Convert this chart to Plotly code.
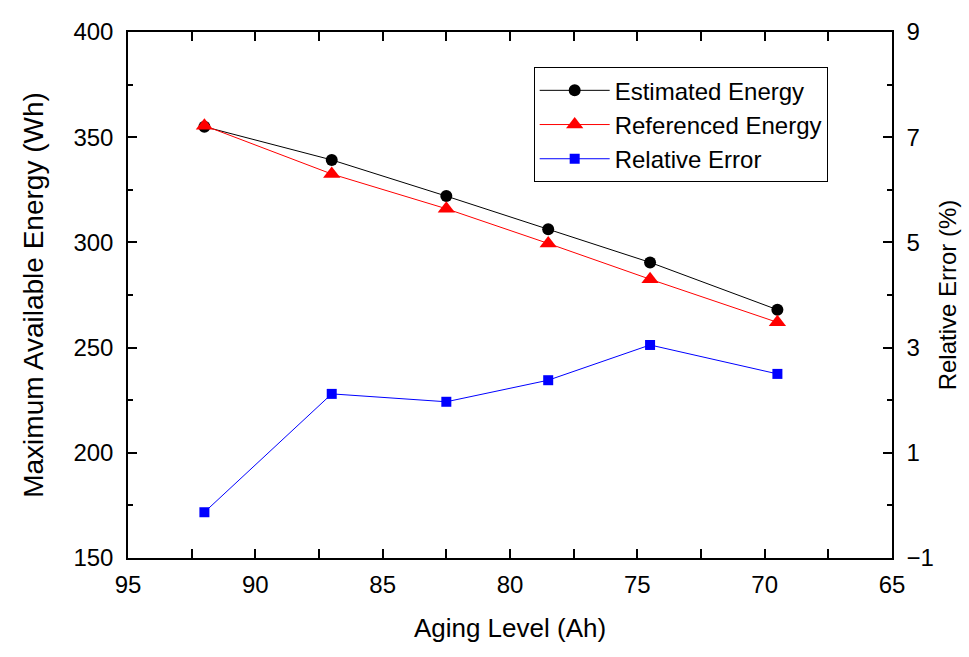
import plotly.graph_objects as go

# Aging level of the pack (Ah)
aging = [92.0, 87.0, 82.5, 78.5, 74.5, 69.5]
# Maximum available energy (Wh)
estimated_energy = [355.0, 339.2, 322.0, 306.2, 290.5, 268.0]
referenced_energy = [355.5, 332.5, 316.0, 299.5, 282.5, 262.0]
# Relative error (%)
relative_error = [-0.13, 2.12, 1.97, 2.38, 3.05, 2.50]

FONT = "Liberation Sans, Arial, sans-serif"

fig = go.Figure()
fig.add_trace(go.Scatter(
    x=aging, y=estimated_energy, name="Estimated Energy", mode="lines+markers",
    line=dict(color="black", width=1),
    marker=dict(symbol="circle", size=12, color="black"),
))
fig.add_trace(go.Scatter(
    x=aging, y=referenced_energy, name="Referenced Energy", mode="lines+markers",
    line=dict(color="red", width=1),
    marker=dict(symbol="triangle-up", size=15, color="red"),
))
fig.add_trace(go.Scatter(
    x=aging, y=relative_error, name="Relative Error", mode="lines+markers",
    line=dict(color="blue", width=1),
    marker=dict(symbol="square", size=10, color="blue"),
    yaxis="y2",
))

axis_common = dict(
    showline=True, linecolor="black", linewidth=1.5,
    ticks="inside", ticklen=9, tickwidth=1.5, tickcolor="black",
    showgrid=False, zeroline=False, automargin=False,
    tickfont=dict(family=FONT, size=24, color="black"),
)
minor_common = dict(ticks="inside", ticklen=5, tickwidth=1.5, tickcolor="black")

fig.update_layout(
    width=969, height=657,
    margin=dict(l=128, r=77, t=32, b=99),
    paper_bgcolor="white", plot_bgcolor="white",
    font=dict(family=FONT, color="black"),
    xaxis=dict(
        **axis_common,
        range=[95, 65], tick0=65, dtick=5, mirror="allticks",
        ticklabelstandoff=4,
        minor=dict(**minor_common, dtick=2.5),
        title=dict(text="Aging Level (Ah)", font=dict(family=FONT, size=26), standoff=22),
    ),
    yaxis=dict(
        **axis_common,
        range=[150, 400], tick0=150, dtick=50,
        ticklabelstandoff=8,
        minor=dict(**minor_common, dtick=25),
        title=dict(text="Maximum Available Energy (Wh)", font=dict(family=FONT, size=28), standoff=22),
    ),
    yaxis2=dict(
        **axis_common,
        overlaying="y", side="right",
        range=[-1, 9], tick0=-1, dtick=2,
        ticklabelstandoff=8,
        minor=dict(**minor_common, dtick=1),
        title=dict(text="Relative Error (%)", font=dict(family=FONT, size=24), standoff=6),
    ),
    legend=dict(
        x=0.531, y=0.933, xanchor="left", yanchor="top",
        bordercolor="black", borderwidth=1, bgcolor="white",
        font=dict(family=FONT, size=24, color="black"),
        tracegroupgap=0, itemwidth=70,
    ),
    showlegend=True,
)

fig.write_html("out.html")
